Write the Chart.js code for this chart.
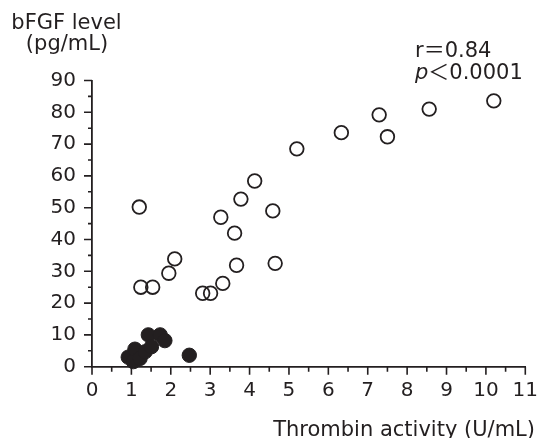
<!DOCTYPE html>
<html><head><meta charset="utf-8">
<script src="https://cdn.jsdelivr.net/npm/chart.js@4.4.1/dist/chart.umd.min.js"></script>
<style>html,body{margin:0;padding:0;background:#fff}#wrap{width:538px;height:438px;position:relative}</style>
</head><body><div id="wrap"><canvas id="c"></canvas></div>
<script>
// ---- data ----
const xTicks = [0,1,2,3,4,5,6,7,8,9,10,11];
const yTicks = [0,10,20,30,40,50,60,70,80,90];
const openX = [1.2, 2.1, 1.95, 1.24, 1.54, 2.81, 3.01, 3.32, 3.67, 3.27, 3.62, 3.78, 4.13, 4.59, 4.65, 5.2, 6.33, 7.29, 7.5, 8.56, 10.2];
const openY = [50.2, 33.9, 29.4, 25.0, 25.0, 23.1, 23.1, 26.2, 31.9, 47.0, 42.0, 52.7, 58.4, 49.0, 32.5, 68.5, 73.6, 79.2, 72.3, 81.0, 83.6];
const filledX = [0.92, 1.05, 1.09, 1.22, 1.35, 1.43, 1.51, 1.73, 1.85, 2.47];
const filledY = [3.0, 1.6, 5.5, 2.6, 4.7, 10.0, 6.3, 10.0, 8.2, 3.6];
const yTitleLines = ['bFGF level', '(pg/mL)'];
const xTitle = 'Thrombin activity (U/mL)';
const statR = 'r＝0.84';
const statP = ['p', '＜0.0001'];

const INK = '#231f20';
const FAM = "'DejaVu Sans', 'Noto Sans CJK JP', sans-serif";

const toPts = (xs, ys) => xs.map((v, i) => ({x: v, y: ys[i]}));

const decor = {
  id: 'decor',
  afterDraw(chart) {
    const {ctx, scales: {x, y}, chartArea: a} = chart;
    ctx.save();
    ctx.strokeStyle = INK; ctx.lineWidth = 1.6;
    ctx.beginPath();
    xTicks.forEach((v, i) => {
      const px = x.getPixelForValue(v);
      ctx.moveTo(px, a.bottom); ctx.lineTo(px, a.bottom + 8);
      if (i < xTicks.length - 1) {
        const m = x.getPixelForValue((v + xTicks[i + 1]) / 2);
        ctx.moveTo(m, a.bottom); ctx.lineTo(m, a.bottom + 5);
      }
    });
    yTicks.forEach((v, i) => {
      const py = y.getPixelForValue(v);
      ctx.moveTo(a.left, py); ctx.lineTo(a.left - 8, py);
      if (i < yTicks.length - 1) {
        const m = y.getPixelForValue((v + yTicks[i + 1]) / 2);
        ctx.moveTo(a.left, m); ctx.lineTo(a.left - 4, m);
      }
    });
    ctx.stroke();

    ctx.fillStyle = INK;
    ctx.font = '21px ' + FAM;
    ctx.textBaseline = 'alphabetic';
    ctx.textAlign = 'center';
    ctx.fillText(yTitleLines[0], 66.5, 29);
    ctx.fillText(yTitleLines[1], 67, 50);

    ctx.textAlign = 'right';
    ctx.fillText(xTitle, 535, 435.5);

    ctx.textAlign = 'left';
    ctx.fillText(statR, 415, 57);
    ctx.font = 'italic 21px ' + FAM;
    ctx.fillText(statP[0], 415, 78.5);
    const w = ctx.measureText(statP[0]).width;
    ctx.font = '21px ' + FAM;
    ctx.fillText(statP[1], 415 + w, 78.5);
    ctx.restore();
  }
};

new Chart(document.getElementById('c'), {
  type: 'scatter',
  data: {
    datasets: [
      {data: toPts(filledX, filledY), pointRadius: 7.2, pointBorderWidth: 1, pointBackgroundColor: INK, pointBorderColor: INK, clip: false},
      {data: toPts(openX, openY), pointRadius: 6.8, pointBorderWidth: 1.8, pointBackgroundColor: 'rgba(0,0,0,0)', pointBorderColor: INK, clip: false}
    ]
  },
  options: {
    responsive: true, maintainAspectRatio: false, animation: false, events: [],
    layout: {padding: {top: 80.5, right: 0, left: 0, bottom: 0}},
    plugins: {legend: {display: false}, tooltip: {enabled: false}},
    scales: {
      x: {
        type: 'linear', min: 0, max: 11,
        afterBuildTicks: s => { s.ticks = xTicks.map(v => ({value: v})); },
        afterFit: s => { s.height = 438 - 366.7; s.paddingRight = 12.7; },
        grid: {display: false, drawTicks: false},
        border: {display: true, color: INK, width: 1.8},
        ticks: {color: INK, font: {family: FAM, size: 20}, padding: 12, maxRotation: 0, autoSkip: false}
      },
      y: {
        type: 'linear', min: 0, max: 90,
        afterBuildTicks: s => { s.ticks = yTicks.map(v => ({value: v})); },
        afterFit: s => { s.width = 92; },
        grid: {display: false, drawTicks: false},
        border: {display: true, color: INK, width: 1.8},
        ticks: {color: INK, font: {family: FAM, size: 20}, padding: 16, autoSkip: false}
      }
    }
  },
  plugins: [decor]
});
</script>
</body></html>
